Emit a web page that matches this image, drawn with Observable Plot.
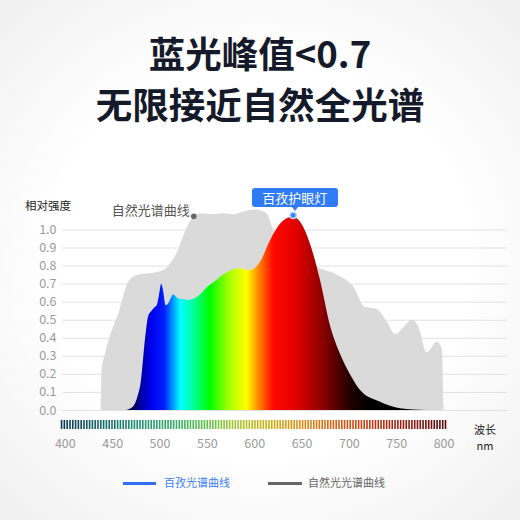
<!DOCTYPE html>
<html><head><meta charset="utf-8">
<script src="https://cdn.jsdelivr.net/npm/d3@7"></script>
<script src="https://cdn.jsdelivr.net/npm/@observablehq/plot@0.6"></script>
<style>
html,body{margin:0;padding:0;}
body{width:520px;height:520px;overflow:hidden;background:radial-gradient(ellipse 80% 75% at 50% 50%, #ffffff 50%, #ececec 100%);font-family:"Noto Sans CJK SC","Noto Sans",sans-serif;}
#wrap{position:relative;width:520px;height:520px;}
#wrap svg{position:absolute;left:0;top:0;}
.title{position:absolute;left:0;width:520px;text-align:center;font-weight:700;font-size:36.5px;color:#151a2a;line-height:36px;white-space:nowrap;}
.abs{position:absolute;white-space:nowrap;line-height:1;}
.unit{position:absolute;left:471px;width:28px;text-align:center;font-size:11px;line-height:16px;height:16px;color:#222;white-space:nowrap;}
.legline{position:absolute;height:2.5px;}
.peak{position:absolute;width:86px;height:19px;background:#2f7cf6;border-radius:3px;color:#fff;font-size:13px;line-height:19px;text-align:center;}
.peak:after{content:"";position:absolute;left:40px;bottom:-4px;border-left:3px solid transparent;border-right:3px solid transparent;border-top:4px solid #2f7cf6;}
</style></head>
<body><div id="wrap">
<div class="title" style="top:35px">蓝光峰值&lt;0.7</div>
<div class="title" style="top:86px">无限接近自然全光谱</div>
<div class="abs" style="left:25px;top:200px;font-size:11.5px;color:#222">相对强度</div>
<div class="unit" style="top:420.5px">波长</div>
<div class="unit" style="top:436.8px">nm</div>
<div class="legline" style="left:123px;top:482px;width:33px;background:#2f6ef5"></div>
<div class="abs" style="left:164px;top:477px;font-size:11px;color:#3d7ef5">百孜光谱曲线</div>
<div class="legline" style="left:268px;top:482px;width:34px;background:#666"></div>
<div class="abs" style="left:308px;top:477px;font-size:11px;color:#666">自然光光谱曲线</div>
</div>
<script>
// Natural light spectrum (gray)
const naturalNm  = [438, 438.8, 442.3, 447.6, 456.4, 467, 477.5, 498.6, 507.5, 518, 528.6, 535.6, 542.7, 556, 567, 578, 588.5, 602, 613, 620, 630, 645, 655, 664, 687, 705, 717, 729.5, 740, 749, 757.6, 766.5, 773.5, 782, 793, 798, 800];
const naturalVal = [0, 0.22, 0.31, 0.41, 0.535, 0.71, 0.75, 0.766, 0.79, 0.87, 1.01, 1.07, 1.09, 1.085, 1.09, 1.085, 1.10, 1.11, 1.09, 1.0, 0.95, 0.88, 0.84, 0.80, 0.75, 0.68, 0.57, 0.56, 0.49, 0.42, 0.46, 0.50, 0.46, 0.32, 0.38, 0.34, 0];
// Lamp spectrum (coloured)
const lampNm  = [464, 472, 477, 480, 484.6, 488, 491.6, 495, 497, 499.5, 501.8, 503.8, 506.4, 509, 514.5, 518, 521.6, 525, 530, 542.7, 549.8, 560, 567, 574, 578, 585, 595.6, 606, 616.7, 627, 640.6, 650, 659, 669.5, 680, 690.7, 701, 712, 733, 754, 782];
const lampVal = [0, 0.02, 0.08, 0.15, 0.39, 0.52, 0.55, 0.57, 0.58, 0.64, 0.70, 0.66, 0.58, 0.59, 0.64, 0.625, 0.615, 0.615, 0.61, 0.64, 0.68, 0.72, 0.75, 0.77, 0.78, 0.785, 0.775, 0.82, 0.94, 1.03, 1.07, 1.03, 0.92, 0.72, 0.47, 0.31, 0.20, 0.11, 0.046, 0.01, 0];
// Gradient of lamp fill
const gradNm    = [460, 472, 482, 492, 505, 522, 537, 553, 575, 592, 604, 620, 645, 672, 700, 720];
const gradColor = ["#00002a", "#000060", "#0000b0", "#0000f0", "#0020ff", "#00ffff", "#00ff90", "#00ff00", "#b0ff00", "#ffff00", "#ff8c00", "#ff0800", "#e00000", "#8c0000", "#250000", "#000000"];
// Axis ticks
const yTicks = [0, 0.1, 0.2, 0.3, 0.4, 0.5, 0.6, 0.7, 0.8, 0.9, 1.0];
const xTicks = [400, 450, 500, 550, 600, 650, 700, 750, 800];
// Wavelength stripe colours
const stripeNm     = [396, 430, 470, 510, 550, 580, 610, 650, 690, 730, 770, 803];
const stripeColors = ["#0b3550", "#135e66", "#1c8a74", "#2eab6a", "#5fc444", "#a4c62a", "#c9b40c", "#e08a14", "#d85812", "#b83412", "#861410", "#4e0a0a"];

const natural = naturalNm.map((x, i) => ({x, y: naturalVal[i]}));
const lamp = lampNm.map((x, i) => ({x, y: lampVal[i]}));
const stripeColor = d3.scaleLinear().domain(stripeNm).range(stripeColors);
const stripe = d3.range(396, 803, 2.96);
const natPeak = natural[11];
const lampPeakIdx = lampVal.indexOf(d3.max(lampVal));
const lampPeak = lamp[lampPeakIdx];

const chart = Plot.plot({
  width: 520, height: 520,
  marginLeft: 62, marginRight: 13, marginTop: 202.4, marginBottom: 110,
  style: {background: "transparent", overflow: "visible", fontFamily: "'Noto Sans CJK SC','Noto Sans',sans-serif"},
  x: {domain: [397, 867], axis: null},
  y: {domain: [0, 1.15], axis: null},
  marks: [
    Plot.ruleY(yTicks, {stroke: "#e2e2e2", strokeWidth: 1}),
    Plot.areaY(natural, {x: "x", y: "y", fill: "#dadada", curve: "monotone-x"}),
    Plot.areaY(lamp, {x: "x", y: "y", fill: "url(#lampGrad)", curve: "monotone-x"}),
    Plot.axisY({ticks: yTicks, tickFormat: d3.format(".1f"), tickSize: 0, tickPadding: 6, label: null, fontSize: 12.5, fill: "#9a9a9a"}),
    Plot.ruleX(stripe, {x: d => d, y1: -0.055, y2: -0.105, stroke: d => stripeColor(d), strokeWidth: 1.6}),
    Plot.text(xTicks, {x: d => d, y: -0.183, text: d => String(d), fontSize: 12.5, fill: "#9a9a9a"}),
    Plot.dot([natPeak], {x: "x", y: "y", r: 2.8, fill: "#666", dy: -1}),
    Plot.text([natPeak], {x: "x", y: "y", text: () => "自然光谱曲线", textAnchor: "end", dx: -4, dy: -7, fontSize: 13, fill: "#555"}),
    Plot.dot([lampPeak], {x: "x", y: "y", r: 3.2, fill: "#3b82f6", stroke: "#b9d2fb", strokeWidth: 1.5, dy: -2})
  ]
});

const xs = chart.scale("x"), ys = chart.scale("y");
const svg = d3.select(chart);
const defs = svg.insert("defs", ":first-child");
const x1 = xs.apply(gradNm[0]), x2 = xs.apply(gradNm[gradNm.length - 1]);
const lg = defs.append("linearGradient").attr("id", "lampGrad").attr("gradientUnits", "userSpaceOnUse")
  .attr("x1", x1).attr("x2", x2).attr("y1", 0).attr("y2", 0);
gradNm.forEach((n, i) => {
  lg.append("stop").attr("offset", (xs.apply(n) - x1) / (x2 - x1)).attr("stop-color", gradColor[i]);
});
const wrap = document.getElementById("wrap");
wrap.insertBefore(chart, wrap.firstChild);

const peakBox = document.createElement("div");
peakBox.className = "peak";
peakBox.textContent = "百孜护眼灯";
peakBox.style.left = (xs.apply(lampPeak.x) - 41) + "px";
peakBox.style.top = (ys.apply(lampPeak.y) - 29) + "px";
wrap.appendChild(peakBox);
</script>
</body></html>
